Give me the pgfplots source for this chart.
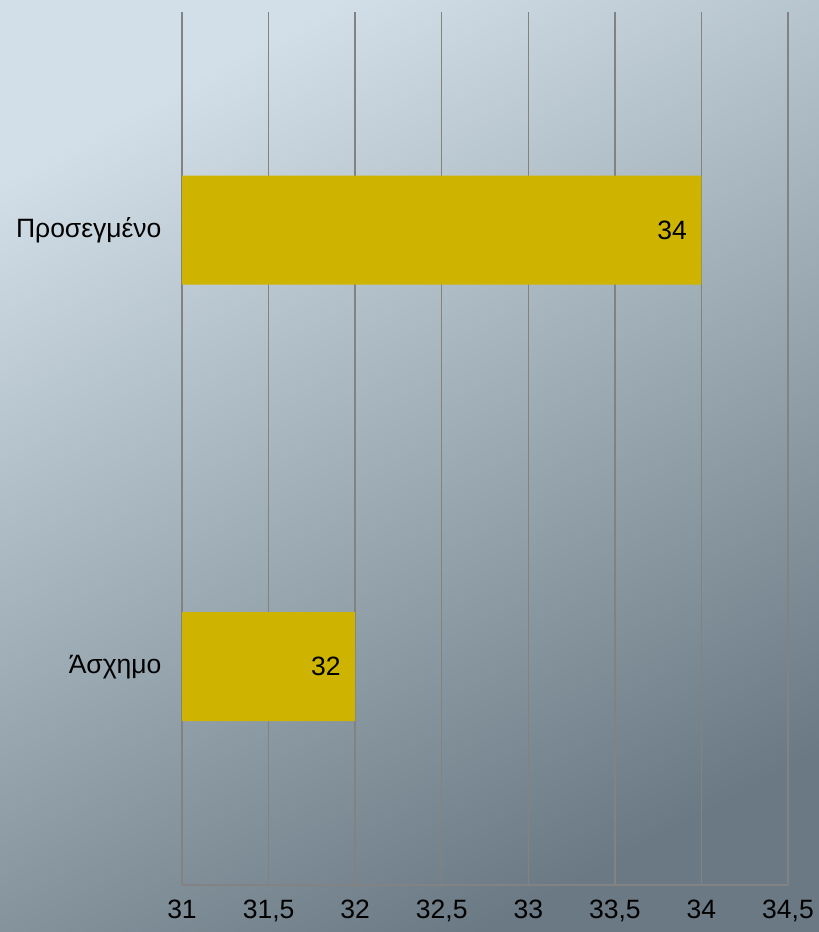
\documentclass[border=0pt]{standalone}
\usepackage{fontspec}
\setmainfont{Liberation Sans}
\usepackage{pgfplots}
\pgfplotsset{compat=1.18}
\definecolor{bgA}{RGB}{210,223,232}
\definecolor{bgB}{RGB}{106,121,131}
\definecolor{barc}{RGB}{206,180,0}
\definecolor{gridc}{RGB}{130,130,130}
\begin{document}
\begin{tikzpicture}[x=1bp,y=1bp]
\shade[top color=bgA, bottom color=bgB, shading angle=28] (0,0) rectangle (819,932);
\begin{axis}[
  at={(182bp,47bp)}, anchor=south west,
  scale only axis, width=606bp, height=873bp,
  xbar, bar width=109bp, bar shift=0pt,
  xmin=31, xmax=34.5, ymin=-0.5, ymax=1.5,
  xtick={31,31.5,32,32.5,33,33.5,34,34.5},
  ytick={0,1}, yticklabels={Άσχημο,Προσεγμένο},
  axis lines*=left,
  axis line style={draw=gridc, line width=1.5bp},
  xmajorgrids, major grid style={draw=gridc, line width=1.5bp},
  major tick length=0pt,
  /pgf/number format/use comma,
  /pgf/number format/assume math mode=true,
  tick label style={font=\fontsize{26.5bp}{30bp}\selectfont, text=black},
  xticklabel style={yshift=-11bp},
  yticklabel style={xshift=-17bp},
  nodes near coords,
  every node near coord/.append style={anchor=east, xshift=-11bp, font=\fontsize{26.5bp}{30bp}\selectfont, text=black},
  clip=true,
]
\addplot[fill=barc, draw=none] coordinates {(32,0) (34,1)};
\end{axis}
\end{tikzpicture}
\end{document}
